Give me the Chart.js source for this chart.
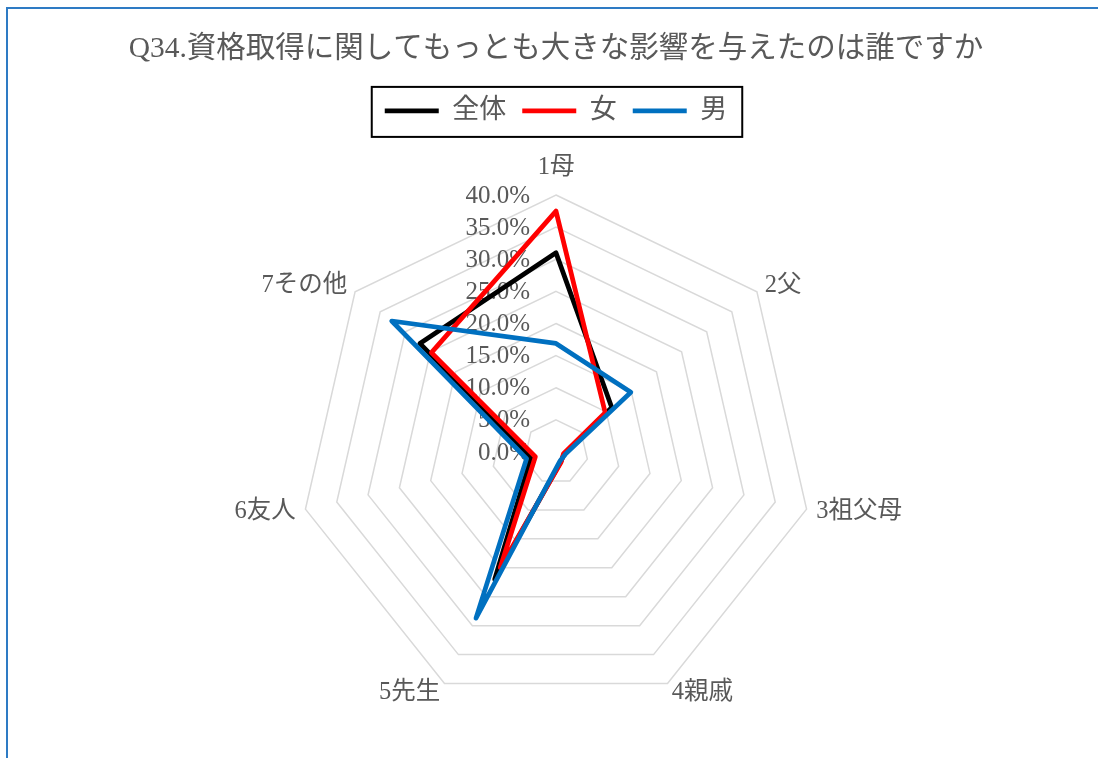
<!DOCTYPE html>
<html lang="ja">
<head>
<meta charset="utf-8">
<title>Q34 radar</title>
<script src="https://cdn.jsdelivr.net/npm/chart.js@4.4.1/dist/chart.umd.min.js"></script>
<style>
  html, body { margin: 0; padding: 0; background: #fff; overflow: hidden; }
  #frame {
    position: absolute; left: 6px; top: 7px; width: 2000px; height: 2000px;
    border-top: 2px solid #2e7bc4; border-left: 2px solid #2e7bc4;
  }
  #wrap { position: absolute; left: 0; top: 0; width: 1098px; height: 758px; }
</style>
</head>
<body>
<div id="frame"></div>
<div id="wrap"><canvas id="radar"></canvas></div>
<script>
"use strict";

// ----- data ---------------------------------------------------------------- //
const CATEGORIES = ["1母", "2父", "3祖父母", "4親戚", "5先生", "6友人", "7その他"];
const SERIES_NAMES = ["全体", "女", "男"];
const ALL_VALUES = [31.0, 11.1, 1.3, 1.7, 22.0, 4.0, 27.1];
const FEMALE_VALUES = [37.5, 9.8, 1.2, 1.8, 20.0, 3.3, 24.8];
const MALE_VALUES = [16.9, 14.9, 1.5, 1.5, 28.7, 4.7, 32.7];
const AXIS_MAX = 40;
const AXIS_STEP = 5;

const SERIES_COLORS = ["#000000", "#ff0000", "#0070c0"];
const TEXT_COLOR = "#595959";
const FONT_FAMILY = "'Liberation Serif', 'Noto Sans CJK JP', serif";

// ----- plugins ------------------------------------------------------------- //
// extra room under the legend so the web sits where Excel put it
const LEGEND_EXTRA = 61;
const legendSpacer = {
  id: "legendSpacer",
  beforeInit(chart) {
    const origFit = chart.legend.fit;
    chart.legend.fit = function () {
      origFit.call(this);
      this.height += LEGEND_EXTRA;
    };
  },
};

// black frame round the legend items
const legendBox = {
  id: "legendBox",
  afterDraw(chart) {
    const boxes = chart.legend && chart.legend.legendHitBoxes;
    if (!boxes || !boxes.length) return;
    const first = boxes[0];
    const last = boxes[boxes.length - 1];
    const left = first.left - 13;
    const right = last.left + last.width + 15;
    const mid = first.top + first.height / 2;
    const ctx = chart.ctx;
    ctx.save();
    ctx.strokeStyle = "#000";
    ctx.lineWidth = 2;
    ctx.strokeRect(left, mid - 24, right - left, 50);
    ctx.restore();
  },
};

// value labels left of the top axis, category names outside the web
const radarText = {
  id: "radarText",
  beforeDatasetsDraw(chart) {
    const r = chart.scales.r;
    const ctx = chart.ctx;
    ctx.save();
    ctx.fillStyle = TEXT_COLOR;

    ctx.font = "25px " + FONT_FAMILY;
    ctx.textAlign = "right";
    ctx.textBaseline = "middle";
    r.ticks.forEach(t => {
      const y = r.yCenter - r.getDistanceFromCenterForValue(t.value);
      ctx.fillText(t.value.toFixed(1) + "%", r.xCenter - 26, y + 1);
    });

    ctx.font = "24.5px " + FONT_FAMILY;
    CATEGORIES.forEach((name, i) => {
      const p = r.getPointPosition(i, r.drawingArea + 10);
      const a = r.getIndexAngle(i);
      const s = Math.sin(a);
      const c = Math.cos(a);
      if (Math.abs(s) < 0.05) {
        ctx.textAlign = "center";
        ctx.textBaseline = c > 0 ? "bottom" : "top";
        ctx.fillText(name, p.x, p.y + (c > 0 ? -5 : 5));
      } else {
        ctx.textAlign = s > 0 ? "left" : "right";
        ctx.textBaseline = "middle";
        ctx.fillText(name, p.x, p.y);
      }
    });
    ctx.restore();
  },
};

// ----- chart --------------------------------------------------------------- //
function makeSeries(label, values, idx) {
  return {
    label,
    data: values,
    borderColor: SERIES_COLORS[idx],
    backgroundColor: "transparent",
    borderWidth: 4.75,
    borderJoinStyle: "round",
    borderCapStyle: "round",
    pointRadius: 0,
    pointHoverRadius: 0,
    fill: false,
    order: 3 - idx, // 男 drawn on top, like Excel
  };
}

new Chart(document.getElementById("radar"), {
  type: "radar",
  data: {
    labels: CATEGORIES,
    datasets: [
      makeSeries(SERIES_NAMES[0], ALL_VALUES, 0),
      makeSeries(SERIES_NAMES[1], FEMALE_VALUES, 1),
      makeSeries(SERIES_NAMES[2], MALE_VALUES, 2),
    ],
  },
  options: {
    responsive: true,
    maintainAspectRatio: false,
    animation: false,
    events: [],
    layout: { padding: { left: 14, right: 0, top: 0, bottom: 48 } },
    scales: {
      r: {
        min: 0,
        max: AXIS_MAX,
        startAngle: 0,
        ticks: { stepSize: AXIS_STEP, display: false },
        grid: { color: "#d9d9d9", lineWidth: 1.5, circular: false },
        angleLines: { display: false },
        pointLabels: { display: false },
      },
    },
    plugins: {
      title: {
        display: true,
        text: "Q34.資格取得に関してもっとも大きな影響を与えたのは誰ですか",
        color: TEXT_COLOR,
        font: { family: FONT_FAMILY, size: 29.5, weight: "normal" },
        padding: { top: 32, bottom: 14 },
      },
      legend: {
        position: "top",
        labels: {
          usePointStyle: true,
          pointStyle: "line",
          pointStyleWidth: 54,
          padding: 16,
          color: TEXT_COLOR,
          font: { family: FONT_FAMILY, size: 27 },
          sort: (a, b) => a.datasetIndex - b.datasetIndex,
        },
      },
      tooltip: { enabled: false },
    },
  },
  plugins: [legendSpacer, legendBox, radarText],
});
</script>
</body>
</html>
